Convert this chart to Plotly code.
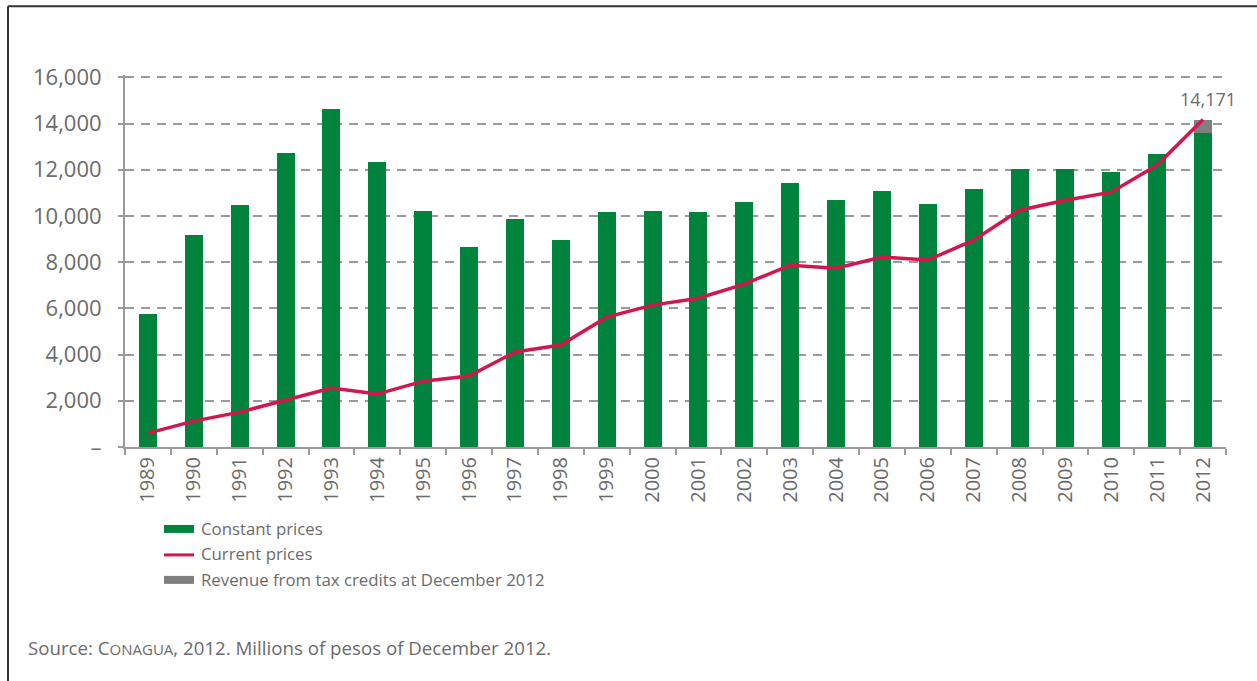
import plotly.graph_objects as go

# Water-sector revenue, millions of pesos of December 2012
years = [str(y) for y in range(1989, 2013)]
constant_prices = [5750, 9170, 10460, 12710, 14620, 12320, 10200, 8650, 9860, 8950,
                   10160, 10200, 10160, 10600, 11420, 10680, 11070, 10510, 11160, 12020,
                   12020, 11890, 12670, 13570]
tax_credits = [None] * 23 + [601]
current_prices = [600, 1120, 1510, 2030, 2550, 2290, 2850, 3070, 4110, 4410,
                  5620, 6140, 6440, 7050, 7870, 7740, 8220, 8090, 8950, 10250,
                  10680, 11030, 12200, 14171]
y_ticks = [0, 2000, 4000, 6000, 8000, 10000, 12000, 14000, 16000]
y_tick_text = ["–" if v == 0 else f"{v:,}" for v in y_ticks]

GREEN = "#00843d"
RED = "#d3164b"
GREY_BAR = "#808083"
TEXT = "#6b6b6b"
AXIS = "#9a9a9a"
FONT = "Open Sans"

fig = go.Figure()
fig.add_trace(go.Bar(x=years, y=constant_prices, marker=dict(color=GREEN, line=dict(width=0)),
                     name="Constant prices", showlegend=False))
fig.add_trace(go.Bar(x=years, y=tax_credits, marker=dict(color=GREY_BAR, line=dict(width=0)),
                     name="Revenue from tax credits at December 2012", showlegend=False))
fig.add_trace(go.Scatter(x=years, y=current_prices, mode="lines",
                         line=dict(color=RED, width=3.5), name="Current prices", showlegend=False))

# Total for the last year, labelled above its stacked bar (category index of 2012)
total_2012 = constant_prices[-1] + tax_credits[-1]
fig.add_annotation(x=len(years) - 1, y=total_2012, text=f"{total_2012:,}", showarrow=False,
                   xshift=5, yshift=21, font=dict(family=FONT, size=18, color=TEXT))

# Plot-area pixel geometry helpers (paper coordinates)
L, R, T, B, W, H = 125, 1226, 77, 447, 1257, 681
Y_MAX = 16000
Y_TOP = 16100  # a little headroom so the 16,000 gridline is drawn fully
T_ADJ = T - (Y_TOP - Y_MAX) * (B - T) / Y_MAX


def px(x):
    return (x - L) / (R - L)


def py(y):
    return (B - y) / (B - T_ADJ)


shapes = [
    # outer frame (top and left edges)
    dict(type="line", xref="paper", yref="paper", x0=px(8), x1=px(1270), y0=py(6), y1=py(6),
         line=dict(color="#333333", width=2)),
    dict(type="line", xref="paper", yref="paper", x0=px(8), x1=px(8), y0=py(6), y1=py(700),
         line=dict(color="#333333", width=2)),
    # legend swatches
    dict(type="rect", xref="paper", yref="paper", x0=px(164), x1=px(194), y0=py(525), y1=py(533),
         fillcolor=GREEN, line=dict(width=0)),
    dict(type="line", xref="paper", yref="paper", x0=px(164), x1=px(194), y0=py(555), y1=py(555),
         line=dict(color=RED, width=3)),
    dict(type="rect", xref="paper", yref="paper", x0=px(164), x1=px(194), y0=py(576), y1=py(584),
         fillcolor=GREY_BAR, line=dict(width=0)),
]
legend_labels = ["Constant prices", "Current prices", "Revenue from tax credits at December 2012"]
for label, yc in zip(legend_labels, [529, 554, 580]):
    fig.add_annotation(xref="paper", yref="paper", x=px(199), y=py(yc), text=label,
                       showarrow=False, xanchor="left", yanchor="middle",
                       font=dict(family=FONT, size=16.8, color=TEXT))

fig.add_annotation(xref="paper", yref="paper", x=px(26), y=py(648),
                   text="Source: C<span style='font-size:15px'>ONAGUA</span>, 2012. Millions of pesos of December 2012.",
                   showarrow=False, xanchor="left", yanchor="middle",
                   font=dict(family=FONT, size=18.7, color=TEXT))

fig.update_layout(
    width=W, height=H,
    margin=dict(l=L, r=W - R, t=T_ADJ, b=H - B),
    paper_bgcolor="white", plot_bgcolor="white",
    barmode="stack", bargap=0.61,
    shapes=shapes,
    font=dict(family=FONT, color=TEXT),
)
fig.update_xaxes(
    type="category", range=[-0.5, 23.5], tickson="boundaries",
    showline=True, linecolor=AXIS, linewidth=2,
    ticks="outside", ticklen=6, tickwidth=2, tickcolor=AXIS,
    tickangle=-90, tickfont=dict(family=FONT, size=20, color=TEXT),
    showgrid=False, zeroline=False,
)
fig.update_yaxes(
    range=[0, Y_TOP], tickvals=y_ticks, ticktext=y_tick_text,
    showline=True, linecolor=AXIS, linewidth=2,
    ticks="outside", ticklen=5, tickwidth=2, tickcolor=AXIS,
    ticklabelstandoff=12,
    tickfont=dict(family=FONT, size=22, color=TEXT),
    showgrid=True, gridcolor=AXIS, gridwidth=2, griddash="9px,7px",
    zeroline=False,
)

fig.write_html("out.html")
